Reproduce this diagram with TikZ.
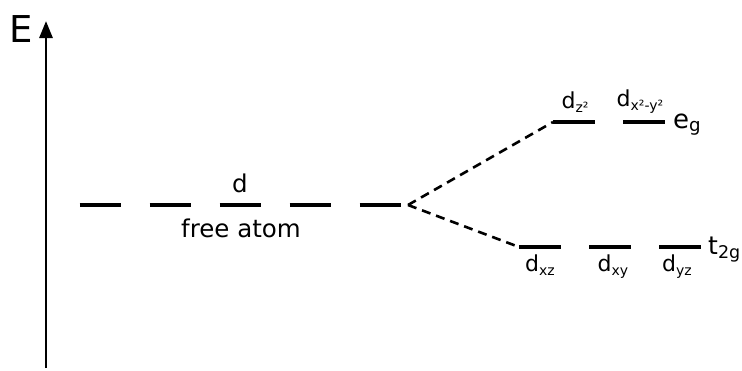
\documentclass[tikz,border=0pt]{standalone}
\usepackage{fontspec}
\setmainfont{DejaVu Sans}
\usetikzlibrary{arrows.meta,positioning}
\newcommand\orbsub[1]{\raisebox{-0.22em}{\fontsize{14}{16}\selectfont #1}}
\tikzset{
  level/.style={line width=3.1pt},
  split/.style={line width=2.6pt, dash pattern=on 9pt off 6pt},
  lbl/.style={font=\fontsize{24.5}{28}\selectfont, inner sep=0pt, anchor=base},
  sublbl/.style={font=\fontsize{22}{25}\selectfont, inner sep=0pt, anchor=base},
}
\begin{document}
\begin{tikzpicture}[x=1pt,y=-1pt]
        \useasboundingbox (0,0) rectangle (742,370);
        % Energy axis
        \coordinate (O) at (46,368);
        \coordinate (T) at (46,21);
        \draw[line width=2.8pt,-{Triangle[length=17pt,width=13pt]}] (O) -- (T);
        \node[font=\fontsize{37}{40}\selectfont, inner sep=0pt, anchor=base] (E) at (21,42) {E};
        % Levels of the free atom
        \foreach \i/\x in {1/100,2/170,3/240,4/310,5/380}{
          \coordinate (f\i a) at (\x-20.5,205);
          \coordinate (f\i b) at (\x+20.5,205);
          \draw[level] (f\i a) -- (f\i b);
        }
        \node[lbl] (d) at (240,192) {d};
        \node[lbl] (free) at (241,237) {free atom};
        % Levels of e_g and t_2g
        \foreach \i/\x in {1/574,2/644}{
          \coordinate (e\i a) at (\x-21,122);
          \coordinate (e\i b) at (\x+21,122);
          \draw[level] (e\i a) -- (e\i b);
        }
        \foreach \i/\x in {1/540,2/610,3/680}{
          \coordinate (t\i a) at (\x-21,247);
          \coordinate (t\i b) at (\x+21,247);
          \draw[level] (t\i a) -- (t\i b);
        }
        % Labels of the split levels
        \node[sublbl] (dz) at (575,108) {d\orbsub{z²}};
        \node[sublbl] (dx) at (640,106) {d\orbsub{x²-y²}};
        \node[lbl, font=\fontsize{26}{29}\selectfont, anchor=base west] (eg) at (673,128) {e\textsubscript{g}};
        \node[sublbl] (dxz) at (540,271) {d\orbsub{xz}};
        \node[sublbl] (dxy) at (613,271) {d\orbsub{xy}};
        \node[sublbl] (dyz) at (677,271) {d\orbsub{yz}};
        \node[lbl, font=\fontsize{25}{29}\selectfont, anchor=base west] (tg) at (708,254) {t\textsubscript{2g}};
        % Splitting
        \coordinate (S) at (408,205);
        \draw[split] (S) -- (e1a);
        \draw[split] (S) -- (t1a);
    \end{tikzpicture}
\end{document}
